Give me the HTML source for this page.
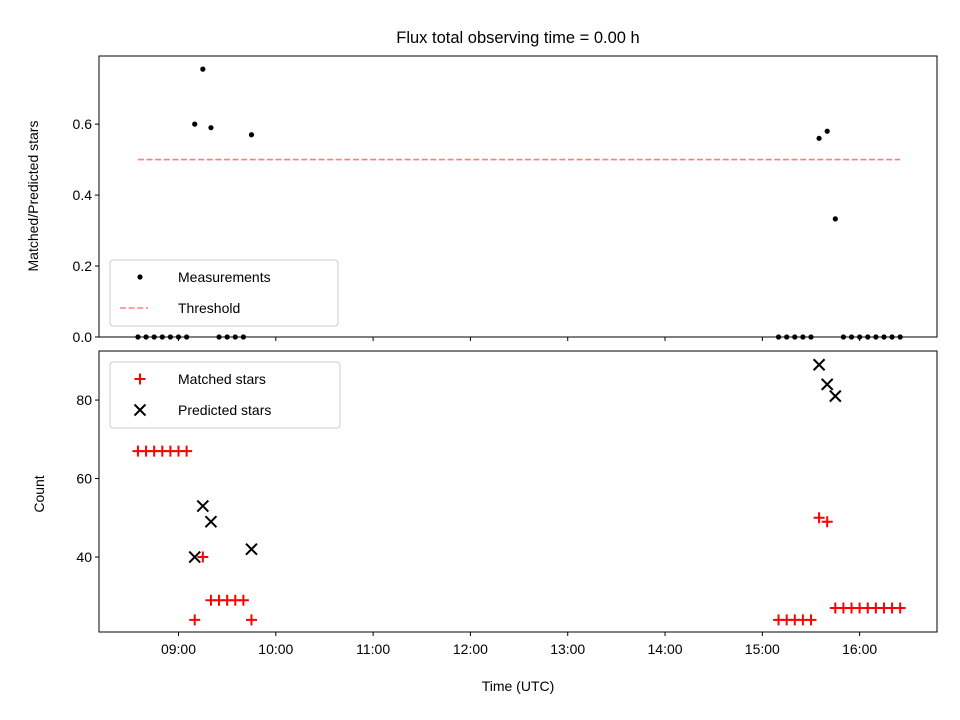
<!DOCTYPE html>
<html><head><meta charset="utf-8"><style>
html,body{margin:0;padding:0;background:#fff}
svg{display:block;font-family:"Liberation Sans","DejaVu Sans",sans-serif}
</style></head><body>
<svg id="chart" width="960" height="720" xmlns="http://www.w3.org/2000/svg">
<rect width="960" height="720" fill="#fff"/>
<text x="518" y="43" font-size="16.5" text-anchor="middle">Flux total observing time = 0.00 h</text>
<g id="gtop"></g>
<g id="gbot"></g>
<text x="518" y="691" font-size="14" text-anchor="middle">Time (UTC)</text>
<text transform="translate(38,196) rotate(-90)" font-size="14" text-anchor="middle">Matched/Predicted stars</text>
<text transform="translate(44,494) rotate(-90)" font-size="14" text-anchor="middle">Count</text>
</svg>
<script>
const times = ["08:35","08:40","08:45","08:50","08:55","09:00","09:05","09:10","09:15","09:20","09:25","09:30","09:35","09:40","09:45",
"15:10","15:15","15:20","15:25","15:30","15:35","15:40","15:45","15:50","15:55","16:00","16:05","16:10","16:15","16:20","16:25"];
const matched = [67,67,67,67,67,67,67,24,40,29,29,29,29,29,24, 24,24,24,24,24,50,49,27,27,27,27,27,27,27,27,27];
const predicted = [null,null,null,null,null,null,null,40,53,49,null,null,null,null,42, null,null,null,null,null,89,84,81,null,null,null,null,null,null,null,null];
const ratio = [0,0,0,0,0,0,0,0.60,0.755,0.59,0,0,0,0,0.57, 0,0,0,0,0,0.56,0.58,0.333,0,0,0,0,0,0,0,0];
const threshold = 0.5;
const xTicks = ["09:00","10:00","11:00","12:00","13:00","14:00","15:00","16:00"];
const topTicks = [0,0.2,0.4,0.6];
const botTicks = [40,60,80];

const NS="http://www.w3.org/2000/svg";
const L=99,R=937;
const xmin=8.183,xmax=16.795;
function h(s){const p=s.split(":");return +p[0]+p[1]/60;}
function X(t){return L+(h(t)-xmin)/(xmax-xmin)*(R-L);}
const T1=56,B1=337,B2=632,T2=351;
function Y1(v){return B1-(v-0)/(0.792-0)*(B1-T1);}
function Y2(v){return B2-(v-20.9)/(92.5-20.9)*(B2-T2);}
function mk(tag,attrs,par){const e=document.createElementNS(NS,tag);for(const k in attrs)e.setAttribute(k,attrs[k]);par.appendChild(e);return e;}
const gTop=document.getElementById('gtop'),gBot=document.getElementById('gbot');

[[gTop,T1,B1],[gBot,T2,B2]].forEach(([g,t,b],i)=>{
  const f=mk('rect',{x:L,y:t,width:R-L,height:b-t,fill:'none',stroke:'#000','stroke-width':1},g);
  
  
  xTicks.forEach(tk=>{
    const x=X(tk);
    const l=mk('line',{x1:x,x2:x,y1:b,y2:b+4,stroke:'#000'},g);
    
    
  });
});
xTicks.forEach(tk=>{
  const t=mk('text',{x:X(tk),y:B2+22,'font-size':14,'text-anchor':'middle'},gBot);
  t.textContent=tk;
  
  
});
topTicks.forEach(v=>{
  const y=Y1(v);
  mk('line',{x1:L-4,x2:L,y1:y,y2:y,stroke:'#000'},gTop);
  const t=mk('text',{x:L-7,y:y+5,'font-size':14,'text-anchor':'end'},gTop);
  t.textContent=v.toFixed(1);
  
  
});
botTicks.forEach(v=>{
  const y=Y2(v);
  mk('line',{x1:L-4,x2:L,y1:y,y2:y,stroke:'#000'},gBot);
  const t=mk('text',{x:L-7,y:y+5,'font-size':14,'text-anchor':'end'},gBot);
  t.textContent=String(v);
  
  
});
const th=mk('line',{x1:X(times[0]),x2:X(times[times.length-1]),y1:Y1(threshold),y2:Y1(threshold),stroke:'#ff7f7f','stroke-width':1.6,'stroke-dasharray':'6,2.6'},gTop);


times.forEach((t,i)=>{
  const c=mk('circle',{cx:X(t),cy:Y1(ratio[i]),r:2.6,fill:'#000'},gTop);
  
  
});
function plus(x,y,g,col){return mk('path',{d:`M${x-5.5},${y}H${x+5.5}M${x},${y-5.5}V${y+5.5}`,stroke:col,'stroke-width':2,fill:'none'},g);}
function cross(x,y,g){return mk('path',{d:`M${x-5.5},${y-5.5}L${x+5.5},${y+5.5}M${x-5.5},${y+5.5}L${x+5.5},${y-5.5}`,stroke:'#000','stroke-width':2,fill:'none'},g);}
times.forEach((t,i)=>{
  const p=plus(X(t),Y2(matched[i]),gBot,'#f00');
  
  
});
times.forEach((t,i)=>{
  if(predicted[i]==null)return;
  const p=cross(X(t),Y2(predicted[i]),gBot);
  
  
});
function legend(g,x,y,w,items,name){
  const lg=mk('g',{},g);
  
  
  mk('rect',{x:x,y:y,width:w,height:66,rx:3,fill:'#fff','fill-opacity':0.8,stroke:'#ccc'},lg);
  items.forEach((it,k)=>{
    const cy=y+17+k*31;
    const e=mk('g',{},lg);
    
    
    if(it[0]==='dot')mk('circle',{cx:x+30,cy:cy,r:2.6,fill:'#000'},e);
    if(it[0]==='dash')mk('line',{x1:x+10,x2:x+38,y1:cy,y2:cy,stroke:'#ff7f7f','stroke-width':1.6,'stroke-dasharray':'6,2.6'},e);
    if(it[0]==='plus')plus(x+30,cy,e,'#f00');
    if(it[0]==='cross')cross(x+30,cy,e);
    const t=mk('text',{x:x+68,y:cy+5,'font-size':14},e);
    t.textContent=it[1];
  });
}
legend(gTop,110,260,228,[['dot','Measurements'],['dash','Threshold']],'top-legend');
legend(gBot,110,362,230,[['plus','Matched stars'],['cross','Predicted stars']],'bottom-legend');
</script>
</body></html>
